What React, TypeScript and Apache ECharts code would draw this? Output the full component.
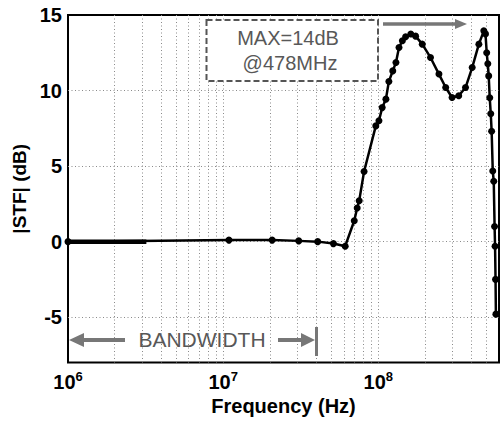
import React, { useEffect, useRef } from 'react';
import * as echarts from 'echarts';

// Measured |STF| curve (frequency in Hz, magnitude in dB)
const freqHz = [
  1e6, 1.09e7, 2.07e7, 3.07e7, 4.07e7, 5.14e7, 6.12e7, 7.0e7, 7.31e7, 7.53e7,
  8.1e7, 9.64e7, 1.01e8, 1.06e8, 1.12e8, 1.17e8, 1.24e8, 1.3e8, 1.36e8, 1.43e8,
  1.5e8, 1.62e8, 1.74e8, 1.92e8, 2.17e8, 2.46e8, 2.72e8, 2.99e8, 3.3e8, 3.65e8,
  4.03e8, 4.45e8, 4.79e8, 4.91e8, 5.0e8, 5.08e8, 5.15e8, 5.23e8, 5.31e8, 5.38e8,
  5.47e8, 5.55e8, 5.62e8, 5.66e8, 5.7e8, 5.73e8,
];
const stfDb = [
  0, 0.1, 0.1, 0.05, 0, -0.13, -0.3, 1.38, 2.23, 2.7,
  4.64, 7.66, 8.0, 8.87, 9.43, 10.6, 11.3, 11.86, 12.85, 13.3,
  13.56, 13.74, 13.6, 13.07, 12.19, 11.09, 10.2, 9.54, 9.65, 10.2,
  11.52, 13.07, 13.95, 13.75, 12.5, 11.77, 10.97, 9.52, 8.46, 7.3,
  4.68, 4.0, 1.0, -0.3, -2.5, -4.8,
];
// dense overlapping segment at the low-frequency end
const denseFreqHz = [1e6, 3.2e6];
const denseDb = [0, 0];

// grid lines
const vGridHz = [
  2e6, 3e6, 4e6, 5e6, 6e6, 7e6, 8e6, 9e6,
  1e7, 2e7, 3e7, 4e7, 5e7, 6e7, 7e7, 8e7, 9e7,
  1e8, 2e8, 3e8, 4e8, 5e8,
];
const hGridDb = [10, 5, 0, -5];

const xMin = 1e6;
const xMax = 6e8;
const yMin = -8;
const yMax = 15;

const annoLines = ['MAX=14dB', '@478MHz'];
const bwLabel = 'BANDWIDTH';

export default function App() {
  const ref = useRef<HTMLDivElement>(null);
  useEffect(() => {
    const chart = echarts.init(ref.current!, null, { renderer: 'svg' });
    const font = '"Liberation Sans", Arial, sans-serif';
    const grey = '#777777';
    const textGrey = '#585858';
    const gridStyle = { color: '#8a8a8a', type: [1, 2.5], width: 1 };
    chart.setOption({
      animation: false,
      backgroundColor: '#ffffff',
      grid: {
        left: 68, right: 2, top: 15, bottom: 65.5,
        show: true, borderColor: '#000', borderWidth: 2, backgroundColor: 'transparent',
      },
      xAxis: {
        type: 'log', logBase: 10, min: xMin, max: xMax,
        name: 'Frequency (Hz)', nameLocation: 'middle', nameGap: 32,
        nameTextStyle: { fontFamily: font, fontWeight: 'bold', fontSize: 20, color: '#000' },
        axisLine: { show: false },
        axisTick: { show: false },
        splitLine: { show: false },
        minorSplitLine: { show: false },
        axisLabel: {
          margin: 7,
          formatter: (v: number) => {
            const e = Math.log10(v);
            if (Math.abs(e - Math.round(e)) > 1e-6) return '';
            return `{b|10}{s|${Math.round(e)}}`;
          },
          rich: {
            b: { fontFamily: font, fontWeight: 'bold', fontSize: 20, color: '#000', lineHeight: 22, verticalAlign: 'bottom' },
            s: { fontFamily: font, fontWeight: 'bold', fontSize: 13, color: '#000', lineHeight: 22, verticalAlign: 'top', padding: [0, 0, 8, 0] },
          },
        },
      },
      yAxis: {
        type: 'value', min: yMin, max: yMax, interval: 1,
        name: '|STF| (dB)', nameLocation: 'middle', nameGap: 35,
        nameTextStyle: { fontFamily: font, fontWeight: 'bold', fontSize: 19, color: '#000' },
        axisLine: { show: false },
        axisTick: { show: false },
        splitLine: { show: false },
        axisLabel: {
          margin: 6,
          fontFamily: font, fontWeight: 'bold', fontSize: 20, color: '#000',
          formatter: (v: number) => (v % 5 === 0 ? String(v) : ''),
        },
      },
      series: [
        {
          type: 'line',
          name: 'grid',
          data: [[xMin, yMin]],
          symbol: 'none',
          lineStyle: { opacity: 0 },
          silent: true,
          z: 1,
          markLine: {
            z: 1,
            silent: true,
            symbol: ['none', 'none'],
            label: { show: false },
            lineStyle: gridStyle,
            emphasis: { disabled: true },
            data: [
              ...vGridHz.map((v) => ({ xAxis: v })),
              ...hGridDb.map((v) => ({ yAxis: v })),
            ],
          },
        },
        {
          type: 'line',
          name: 'dense',
          data: denseFreqHz.map((f, i) => [f, denseDb[i]]),
          symbol: 'none',
          lineStyle: { color: '#000', width: 4.5 },
          z: 3,
        },
        {
          type: 'line',
          name: 'STF',
          data: freqHz.map((f, i) => [f, stfDb[i]]),
          symbol: 'circle',
          symbolSize: 7,
          showAllSymbol: true,
          itemStyle: { color: '#000' },
          lineStyle: { color: '#000', width: 2.5 },
          z: 4,
        },
      ],
      graphic: [
        {
          type: 'rect', z: 100,
          shape: { x: 206.5, y: 20, width: 171.5, height: 61 },
          style: { fill: '#fff', stroke: '#555', lineWidth: 2, lineDash: [6, 3] },
        },
        {
          type: 'text', z: 101, x: 288, y: 38,
          style: { text: annoLines[0], font: `20px ${font}`, fill: textGrey, align: 'center', verticalAlign: 'middle' },
        },
        {
          type: 'text', z: 101, x: 290, y: 63,
          style: { text: annoLines[1], font: `20px ${font}`, fill: textGrey, align: 'center', verticalAlign: 'middle' },
        },
        // top arrow
        {
          type: 'line', z: 101,
          shape: { x1: 383, y1: 24, x2: 457, y2: 24 },
          style: { stroke: grey, lineWidth: 3.5 },
        },
        {
          type: 'polygon', z: 101,
          shape: { points: [[455, 19], [467, 24], [455, 29]] },
          style: { fill: grey },
        },
        // bandwidth arrow
        {
          type: 'polygon', z: 101,
          shape: { points: [[69, 340], [84, 333], [84, 347]] },
          style: { fill: grey },
        },
        {
          type: 'line', z: 101,
          shape: { x1: 82, y1: 340, x2: 125, y2: 340 },
          style: { stroke: grey, lineWidth: 4 },
        },
        {
          type: 'text', z: 101, x: 202, y: 339,
          style: { text: bwLabel, font: `21px ${font}`, fill: textGrey, align: 'center', verticalAlign: 'middle' },
        },
        {
          type: 'line', z: 101,
          shape: { x1: 278, y1: 340, x2: 304, y2: 340 },
          style: { stroke: grey, lineWidth: 4 },
        },
        {
          type: 'polygon', z: 101,
          shape: { points: [[301, 333], [315, 340], [301, 347]] },
          style: { fill: grey },
        },
        {
          type: 'line', z: 101,
          shape: { x1: 316.5, y1: 327, x2: 316.5, y2: 356 },
          style: { stroke: grey, lineWidth: 3 },
        },
      ],
    });
    return () => chart.dispose();
  }, []);
  return <div ref={ref} style={{ position: 'absolute', left: 0, top: 0, width: 502, height: 428 }} />;
}
